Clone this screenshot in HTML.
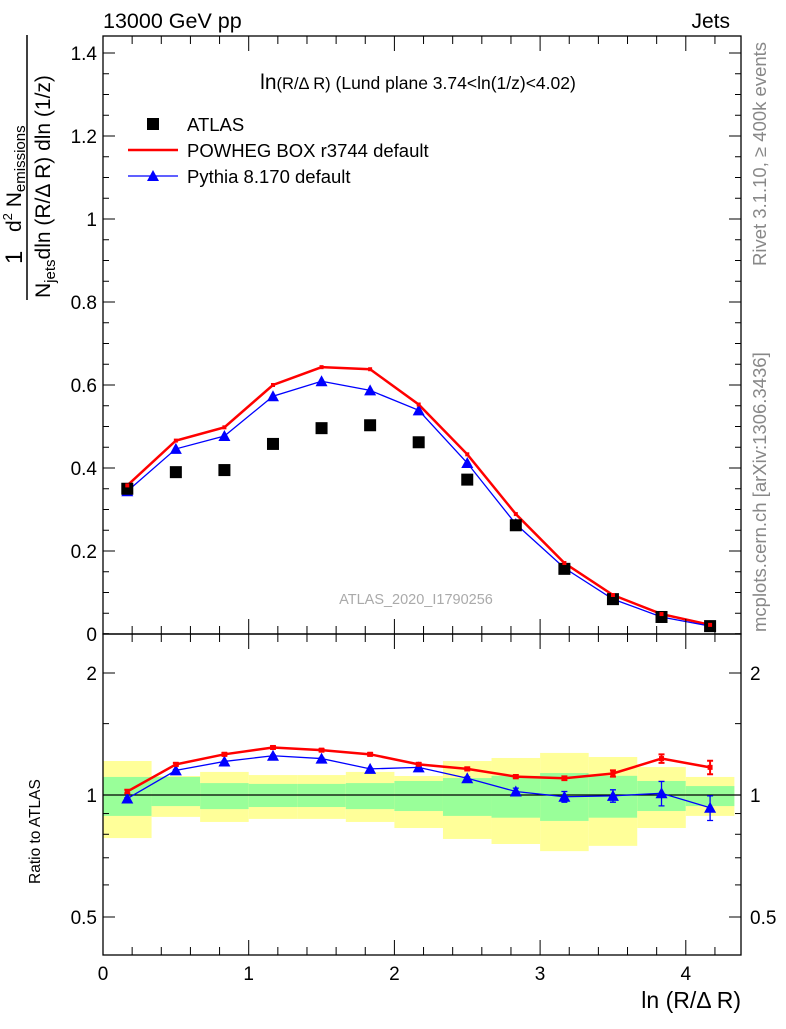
<!DOCTYPE html>
<html><head><meta charset="utf-8"><style>
body{margin:0;background:#fff}
svg{font-family:"Liberation Sans",sans-serif}
</style></head><body>
<svg id="c" width="786" height="1024">
<g id="bands"></g>
<g id="marks"></g>
<g id="axes"></g>
<rect x="103" y="36" width="638" height="598" fill="none" stroke="#000" stroke-width="1.3"/>
<rect x="103" y="634" width="638" height="321" fill="none" stroke="#000" stroke-width="1.3"/>
<text x="103" y="28" font-size="21.5">13000 GeV pp</text>
<text x="730" y="28" font-size="21" text-anchor="end">Jets</text>
<text x="418" y="89" font-size="21" text-anchor="middle">ln<tspan font-size="16.5">(R/Δ R)</tspan><tspan font-size="17.5"> (Lund plane 3.74&lt;ln(1/z)&lt;4.02)</tspan></text>
<g>
<rect x="147" y="118" width="12" height="12" fill="#000"/>
<text x="187" y="131" font-size="18.5">ATLAS</text>
<line x1="128" y1="150" x2="178" y2="150" stroke="red" stroke-width="2.5"/>
<text x="187" y="157" font-size="18.5">POWHEG BOX r3744 default</text>
<line x1="128" y1="176" x2="178" y2="176" stroke="blue" stroke-width="1.3"/>
<polygon points="153,170 147,181 159,181" fill="blue"/>
<text x="187" y="183" font-size="18.5">Pythia 8.170 default</text>
</g>
<text x="416" y="604" font-size="14.5" fill="#aaa" text-anchor="middle">ATLAS_2020_I1790256</text>
<g transform="translate(766,266) rotate(-90)"><text font-size="18.5" fill="#888">Rivet 3.1.10, ≥ 400k events</text></g>
<g transform="translate(766,632) rotate(-90)"><text font-size="18.5" fill="#888">mcplots.cern.ch [arXiv:1306.3436]</text></g>
<g transform="translate(0,300) rotate(-90)">
<text x="36" y="22" font-size="24">1</text>
<line x1="0" y1="27" x2="265" y2="27" stroke="#000" stroke-width="1.5"/>
<text x="68" y="21" font-size="21">d<tspan font-size="13" dy="-9">2</tspan><tspan dy="9"> N</tspan><tspan font-size="15" dy="4">emissions</tspan></text>
<text x="2" y="50" font-size="21">N<tspan font-size="15" dy="5">jets</tspan><tspan dy="-5">dln (R/Δ R) dln (1/z)</tspan></text>
</g>
<g transform="translate(40,884) rotate(-90)"><text font-size="15.5">Ratio to ATLAS</text></g>
<text x="741" y="1008" font-size="23" text-anchor="end">ln (R/Δ R)</text>
<script>
const xs=[0.1667,0.5,0.8333,1.1667,1.5,1.8333,2.1667,2.5,2.8333,3.1667,3.5,3.8333,4.1667];
const atlas=[0.35,0.39,0.395,0.458,0.496,0.503,0.462,0.372,0.262,0.157,0.084,0.041,0.019];
const powheg=[0.358,0.466,0.498,0.6,0.643,0.638,0.553,0.433,0.289,0.171,0.094,0.048,0.022];
const pythia=[0.344,0.446,0.477,0.573,0.609,0.587,0.539,0.412,0.265,0.159,0.084,0.041,0.019];
const ratioPowheg=[1.02,1.19,1.26,1.31,1.29,1.26,1.19,1.16,1.11,1.10,1.13,1.23,1.17];
const ratioPythia=[0.98,1.15,1.21,1.25,1.23,1.16,1.17,1.10,1.02,0.99,0.995,1.01,0.93];
const errPowheg=[0.01,0.01,0.01,0.01,0.01,0.01,0.01,0.01,0.01,0.012,0.02,0.03,0.045];
const errPythia=[0.005,0.005,0.005,0.005,0.005,0.005,0.005,0.008,0.02,0.03,0.035,0.07,0.065];
const greenUp=[1.108,1.108,1.07,1.065,1.065,1.07,1.083,1.101,1.115,1.133,1.115,1.083,1.052];
const greenDn=[0.888,0.939,0.923,0.934,0.934,0.923,0.913,0.888,0.879,0.863,0.879,0.913,0.939];
const yelUp=[1.213,1.114,1.14,1.12,1.12,1.14,1.114,1.213,1.234,1.27,1.241,1.172,1.108];
const yelDn=[0.783,0.883,0.858,0.873,0.873,0.858,0.829,0.779,0.757,0.727,0.749,0.829,0.888];
const mainTicks=[0,0.2,0.4,0.6,0.8,1,1.2,1.4];
const ratioTicks=[0.5,1,2];
const xTicks=[0,1,2,3,4];
const X=v=>103+v*145.7, Y=v=>634-v*415, R=v=>795-122*Math.log2(v);
const NS="http://www.w3.org/2000/svg";
function mk(p,t,a){const e=document.createElementNS(NS,t);for(const k in a)e.setAttribute(k,a[k]);document.getElementById(p).appendChild(e);return e;}
const w=1/3;
xs.forEach((x,i)=>{
 let e=mk('bands','rect',{x:X(x-w/2),y:R(yelUp[i]),width:X(w)-103,height:R(yelDn[i])-R(yelUp[i]),fill:'#ffff99'});
 
 
 e=mk('bands','rect',{x:X(x-w/2),y:R(greenUp[i]),width:X(w)-103,height:R(greenDn[i])-R(greenUp[i]),fill:'#99ff99'});
 
 
});
let l=mk('marks','line',{x1:103,x2:741,y1:R(1),y2:R(1),stroke:'#000','stroke-width':1.3});


function line(arr,f,col,sw,name){const e=mk('marks','polyline',{points:xs.map((x,i)=>X(x)+','+f(arr[i])).join(' '),fill:'none',stroke:col,'stroke-width':sw});
 
 }
line(powheg,Y,'red',2.5,'powheg-line');
line(pythia,Y,'blue',1.3,'pythia-line');
line(ratioPowheg,R,'red',2.5,'powheg-ratio-line');
line(ratioPythia,R,'blue',1.3,'pythia-ratio-line');
function tri(x,y,name){const e=mk('marks','polygon',{points:`${x},${y-6} ${x-6},${y+5} ${x+6},${y+5}`,fill:'blue'});
 
 }
function err(x,v,e,col,sw,name){const g=mk('marks','path',{d:`M${x},${R(v+e)}V${R(v-e)}M${x-3},${R(v+e)}h6M${x-3},${R(v-e)}h6`,stroke:col,'stroke-width':sw,fill:'none'});
 
 }
xs.forEach((x,i)=>{
 err(X(x),ratioPowheg[i],errPowheg[i],'red',2,'powheg-ratio-error');
 err(X(x),ratioPythia[i],errPythia[i],'blue',1.3,'pythia-ratio-error');
 tri(X(x),Y(pythia[i]),'pythia-point');
 tri(X(x),R(ratioPythia[i]),'pythia-ratio-point');
 const s=mk('marks','rect',{x:X(x)-6,y:Y(atlas[i])-6,width:12,height:12,fill:'#000'});
 
 
 const r=mk('marks','rect',{x:X(x)-2,y:Y(powheg[i])-2,width:4,height:4,fill:'red'});
 
 
 const r2=mk('marks','rect',{x:X(x)-2.5,y:R(ratioPowheg[i])-2.5,width:5,height:5,fill:'red'});
 
 
});
mainTicks.forEach(v=>{
 mk('axes','line',{x1:103,x2:115,y1:Y(v),y2:Y(v),stroke:'#000'});
 mk('axes','line',{x1:741,x2:729,y1:Y(v),y2:Y(v),stroke:'#000'});
 const t=mk('axes','text',{x:97,y:Y(v)+7,'font-size':19,'text-anchor':'end'});t.textContent=String(v);
 
 
 for(let k=1;k<4;k++){const m=v+k*0.05;if(m<1.44){mk('axes','line',{x1:103,x2:109,y1:Y(m),y2:Y(m),stroke:'#000'});mk('axes','line',{x1:741,x2:735,y1:Y(m),y2:Y(m),stroke:'#000'});}}
});
ratioTicks.forEach(v=>{
 mk('axes','line',{x1:103,x2:115,y1:R(v),y2:R(v),stroke:'#000'});
 mk('axes','line',{x1:741,x2:729,y1:R(v),y2:R(v),stroke:'#000'});
 let t=mk('axes','text',{x:97,y:R(v)+7,'font-size':19,'text-anchor':'end'});t.textContent=String(v);
 
 
 t=mk('axes','text',{x:750,y:R(v)+7,'font-size':19});t.textContent=String(v);
 
 
});
[0.6,0.7,0.8,0.9,1.5,2.5].forEach(v=>{mk('axes','line',{x1:103,x2:109,y1:R(v),y2:R(v),stroke:'#000'});mk('axes','line',{x1:741,x2:735,y1:R(v),y2:R(v),stroke:'#000'});});
xTicks.forEach(v=>{
 mk('axes','line',{x1:X(v),x2:X(v),y1:955,y2:940,stroke:'#000'});
 mk('axes','line',{x1:X(v),x2:X(v),y1:634,y2:619,stroke:'#000'});
 mk('axes','line',{x1:X(v),x2:X(v),y1:36,y2:51,stroke:'#000'});
 mk('axes','line',{x1:X(v),x2:X(v),y1:634,y2:649,stroke:'#000'});
 const t=mk('axes','text',{x:X(v),y:980,'font-size':19,'text-anchor':'middle'});t.textContent=String(v);
 
 
 for(let k=1;k<5;k++){const m=X(v+k*0.2);if(m<741){[[955,947],[634,626],[36,44],[634,642]].forEach(p=>mk('axes','line',{x1:m,x2:m,y1:p[0],y2:p[1],stroke:'#000'}));}}
});
</script>
</svg>
</body></html>
